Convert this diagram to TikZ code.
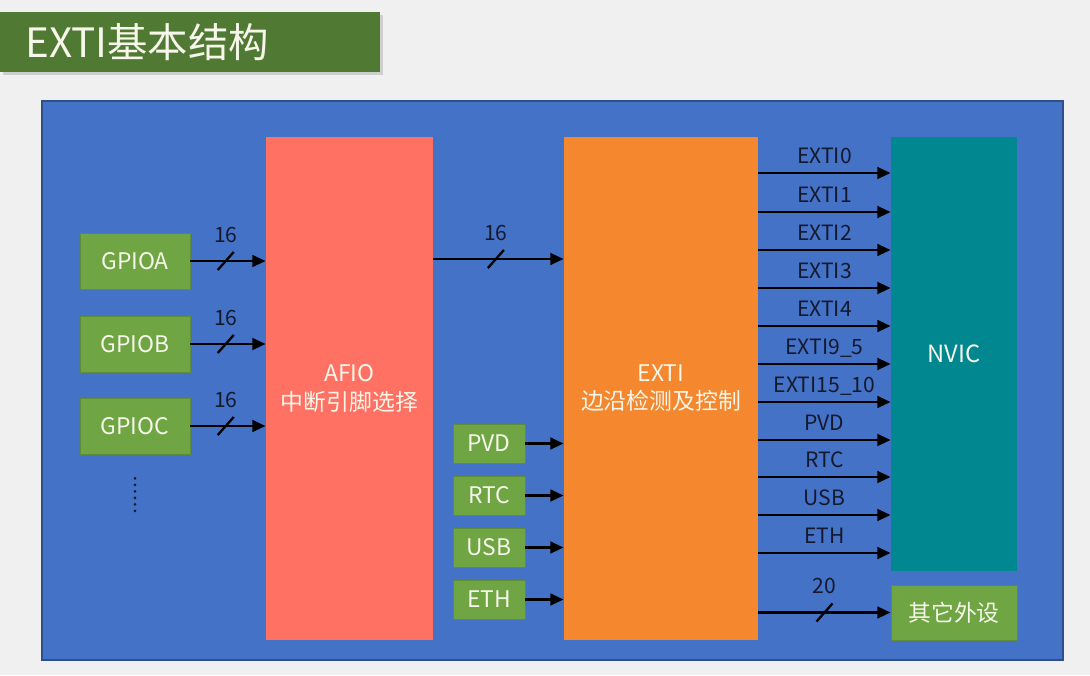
\documentclass[tikz,border=0pt]{standalone}
\usepackage{fontspec}
\setmainfont{Noto Sans CJK SC}
\usetikzlibrary{positioning,arrows.meta,shadows}

\definecolor{bgcol}{HTML}{F0F0F0}
\definecolor{titlegreen}{HTML}{507A33}
\definecolor{panelblue}{HTML}{4472C6}
\definecolor{paneledge}{HTML}{2F4E8C}
\definecolor{afiocol}{HTML}{FF7163}
\definecolor{exticol}{HTML}{F5872F}
\definecolor{nviccol}{HTML}{00878F}
\definecolor{boxgreen}{HTML}{6FA543}
\definecolor{labtext}{HTML}{15192E}
\definecolor{boxtext}{HTML}{F6F6EA}

\begin{document}
\begin{tikzpicture}[
  x=0.2mm, y=-0.2mm,
  font=\fontsize{12}{14}\selectfont,
  blk/.style={inner sep=0pt, text=boxtext, align=center},
  gbox/.style={blk, fill=boxgreen, draw=boxgreen!85!black, line width=0.4pt,
               font=\fontsize{13}{16}\selectfont},
  iobox/.style={gbox, minimum width=22mm, minimum height=11.2mm},
  srcbox/.style={gbox, minimum width=14.4mm, minimum height=7.8mm},
  bigbox/.style={blk, font=\fontsize{13}{16}\selectfont, minimum height=100.6mm},
  arr/.style={-{Triangle[length=7.5pt, width=6.5pt]}, line width=1.6pt, draw=black},
  bus/.style={line width=1.3pt, draw=black},
  lab/.style={text=labtext, inner sep=1pt, text depth=0pt}
]
% ----- page and panel -----
\fill[bgcol] (0,0) rectangle (1090,675);
\useasboundingbox (0,0) rectangle (1090,675);
\node[fill=titlegreen, text=boxtext, font=\fontsize{23}{26}\selectfont,
      anchor=west, minimum height=12mm, inner xsep=5mm, text width=66mm, align=left,
      drop shadow={shadow xshift=0.5mm, shadow yshift=-0.6mm, opacity=0.3}]
      (title) at (0,42) {EXTI基本结构};
\node[fill=panelblue, draw=paneledge, line width=0.6pt,
      minimum width=204.2mm, minimum height=111.8mm] (panel) at (552.5,380.5) {};
% ----- main blocks -----
\node[bigbox, fill=afiocol, minimum width=33.4mm] (afio) at (349.5,388.5) {AFIO\\中断引脚选择};
\node[bigbox, fill=exticol, minimum width=38.8mm] (exti) at (661,388.5) {EXTI\\边沿检测及控制};
\node[blk, fill=nviccol, font=\fontsize{13.5}{16}\selectfont,
      minimum width=25.2mm, minimum height=86.8mm] (nvic) at (954,354) {NVIC};
\node[gbox, minimum width=25.2mm, minimum height=11mm] (other) at (954,612.5) {其它外设};
% ----- GPIO ports -> AFIO -----
\foreach \n/\t/\y in {gpa/GPIOA/261, gpb/GPIOB/344, gpc/GPIOC/426}{
  \node[iobox] (\n) at (135,\y) {\t};
  \draw[arr] (\n.east) -- node[pos=0.47, lab, above=9pt]{16} coordinate[pos=0.47] (m) (\n.east -| afio.west);
  \draw[bus] ([shift={(-8,9)}]m) -- ([shift={(8,-9)}]m);
}
\draw[labtext, line width=1.6pt, line cap=round, dash pattern=on 0pt off 3.7pt]
  ([yshift=-4.8mm]gpc.south) -- ([yshift=-12.4mm]gpc.south);
% ----- AFIO -> EXTI -----
\draw[arr] (afio.east |- 0,259) -- node[pos=0.48, lab, above=9pt]{16} coordinate[pos=0.48] (m) (exti.west |- 0,259);
\draw[bus] ([shift={(-8,9)}]m) -- ([shift={(8,-9)}]m);
% ----- other sources -> EXTI -----
\foreach \n/\t/\y in {pvd/PVD/443.5, rtc/RTC/495.5, usb/USB/547.5, eth/ETH/599.5}{
  \node[srcbox] (\n) at (489,\y) {\t};
  \draw[arr] (\n.east) -- (\n.east -| exti.west);
}
% ----- EXTI -> NVIC -----
\foreach \y/\t in {173/EXTI0, 212/EXTI1, 250/EXTI2, 288/EXTI3, 326/EXTI4, 364/EXTI9\_5,
                   402/EXTI15\_10, 440/PVD, 477/RTC, 515/USB, 553/ETH}
  \draw[arr] (exti.east |- 0,\y) -- node[lab, above=3.5pt]{\t} (nvic.west |- 0,\y);
% ----- EXTI -> other peripherals -----
\draw[arr] (exti.east |- other.west) -- node[pos=0.5, lab, above=9pt]{20} coordinate[pos=0.5] (m) (other.west);
\draw[bus] ([shift={(-8,9)}]m) -- ([shift={(8,-9)}]m);
\end{tikzpicture}
\end{document}
